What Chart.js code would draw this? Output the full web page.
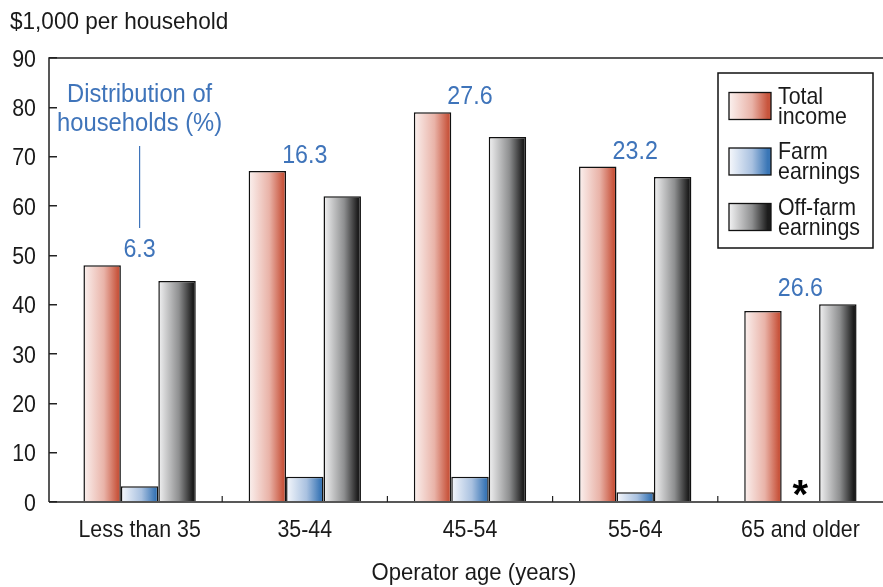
<!DOCTYPE html>
<html>
<head>
<meta charset="utf-8">
<script src="https://cdn.jsdelivr.net/npm/chart.js@4"></script>
<style>
  html, body { margin: 0; padding: 0; background: #fff; }
</style>
</head>
<body>
<canvas id="myChart" width="883" height="587"></canvas>
<script>
const ageGroups = ['Less than 35', '35-44', '45-54', '55-64', '65 and older'];
const totalIncome = [48, 67.1, 79, 68, 38.7];
const farmEarnings = [3.2, 5.1, 5.1, 2, null];
const offFarmEarnings = [44.8, 62, 74, 65.9, 40.1];
const householdShare = [6.3, 16.3, 27.6, 23.2, 26.6];
const yMin = 0, yMax = 90, yStep = 10;

const FONT = '"Liberation Sans", Arial, sans-serif';
const BLUE_TEXT = '#3f74ba';
const INK = '#1a1a1a';

// left -> right gradient stops for each series
const gradStops = [
    ['#fbf1ef', '#e9b3a8', '#c8553d'],
    ['#f6f8fc', '#a9c1e0', '#3a76b6'],
    ['#f2f2f3', '#8e8f90', '#1c1c1c']
];

function makeGrad(ctx, x0, x1, di) {
    const g = ctx.createLinearGradient(x0, 0, x1, 0);
    const s = gradStops[di];
    g.addColorStop(0, s[0]);
    g.addColorStop(0.55, s[1]);
    g.addColorStop(0.92, s[2]);
    g.addColorStop(1, s[2]);
    return g;
}

// the original uses a condensed face, so squeeze the text horizontally
function txt(ctx, s, x, y, o) {
    ctx.save();
    ctx.font = (o.weight || '') + ' ' + o.size + 'px ' + FONT;
    ctx.fillStyle = o.color || INK;
    ctx.textAlign = o.align || 'left';
    ctx.textBaseline = 'alphabetic';
    ctx.translate(x, y);
    ctx.scale(o.sx || 0.89, 1);
    ctx.fillText(s, 0, 0);
    ctx.restore();
}

const barGradients = {
    id: 'barGradients',
    beforeDatasetsDraw(chart) {
        const ctx = chart.ctx;
        chart.data.datasets.forEach((ds, di) => {
            const meta = chart.getDatasetMeta(di);
            meta.data.forEach(el => {
                if (!isFinite(el.x) || !isFinite(el.width)) return;
                const g = makeGrad(ctx, el.x - el.width / 2, el.x + el.width / 2, di);
                el.options = Object.assign({}, el.options, { backgroundColor: g });
            });
        });
    }
};

const decorations = {
    id: 'decorations',
    afterDraw(chart) {
        const ctx = chart.ctx;
        const { left, top, bottom } = chart.chartArea;
        const xs = chart.scales.x, ys = chart.scales.y;
        const axisX = left - 8;
        ctx.save();

        // frame: left, top, bottom
        ctx.strokeStyle = '#222';
        ctx.lineWidth = 1.5;
        ctx.beginPath();
        ctx.moveTo(axisX, bottom);
        ctx.lineTo(axisX, top);
        ctx.lineTo(chart.width, top);
        ctx.moveTo(axisX, bottom);
        ctx.lineTo(chart.width, bottom);
        ctx.stroke();

        // small ticks between categories
        ctx.lineWidth = 1.2;
        ctx.beginPath();
        for (let i = 1; i < ageGroups.length; i++) {
            const bx = (xs.getPixelForValue(i - 1) + xs.getPixelForValue(i)) / 2;
            ctx.moveTo(bx, bottom);
            ctx.lineTo(bx, bottom - 6);
        }
        ctx.stroke();

        // y tick labels
        ys.ticks.forEach(t => {
            txt(ctx, String(t.value), axisX - 13, ys.getPixelForValue(t.value) + 8.5,
                { size: 24, align: 'right' });
        });

        // category labels and axis title
        ageGroups.forEach((g, i) => {
            txt(ctx, g, xs.getPixelForValue(i), 537, { size: 24, align: 'center' });
        });
        txt(ctx, 'Operator age (years)', (axisX + chart.width) / 2 + 8, 580,
            { size: 24, align: 'center', sx: 0.92 });

        // y axis unit label
        txt(ctx, '$1,000 per household', 10, 29, { size: 24, sx: 0.94 });

        // share of households above each group
        householdShare.forEach((v, i) => {
            const hi = Math.max(totalIncome[i] || 0, farmEarnings[i] || 0, offFarmEarnings[i] || 0);
            txt(ctx, v.toFixed(1), xs.getPixelForValue(i), ys.getPixelForValue(hi) - 8,
                { size: 25, align: 'center', color: BLUE_TEXT, sx: 0.93 });
        });

        // callout for the first group
        const cx = xs.getPixelForValue(0);
        txt(ctx, 'Distribution of', cx, 102, { size: 25, align: 'center', color: BLUE_TEXT, sx: 0.95 });
        txt(ctx, 'households (%)', cx, 131, { size: 25, align: 'center', color: BLUE_TEXT, sx: 0.95 });
        ctx.strokeStyle = BLUE_TEXT;
        ctx.lineWidth = 1.2;
        ctx.beginPath();
        ctx.moveTo(cx, 146);
        ctx.lineTo(cx, 228);
        ctx.stroke();

        // asterisk where farm earnings are missing
        farmEarnings.forEach((v, i) => {
            if (v === null) {
                txt(ctx, '*', xs.getPixelForValue(i), bottom + 6,
                    { size: 40, align: 'center', color: '#000', weight: 'bold', sx: 1 });
            }
        });

        // legend box
        ctx.strokeStyle = '#111';
        ctx.lineWidth = 1.5;
        ctx.strokeRect(718, 73, 155, 175);
        chart.data.datasets.forEach((ds, di) => {
            const cy = 105.5 + di * 55.5;
            ctx.fillStyle = makeGrad(ctx, 729, 771, di);
            ctx.fillRect(729, cy - 13, 42, 27);
            ctx.strokeStyle = '#111';
            ctx.lineWidth = 1.3;
            ctx.strokeRect(729, cy - 13, 42, 27);
            const sp = ds.label.indexOf(' ');
            txt(ctx, ds.label.slice(0, sp), 778, cy - 2, { size: 24 });
            txt(ctx, ds.label.slice(sp + 1), 778, cy + 18, { size: 24 });
        });
        ctx.restore();
    }
};

const ctx = document.getElementById('myChart').getContext('2d');
const myChart = new Chart(ctx, {
    type: 'bar',
    data: {
        labels: ageGroups,
        datasets: [
            { label: 'Total income', data: totalIncome, backgroundColor: '#c8553d' },
            { label: 'Farm earnings', data: farmEarnings, backgroundColor: '#3a76b6' },
            { label: 'Off-farm earnings', data: offFarmEarnings, backgroundColor: '#555' }
        ]
    },
    options: {
        responsive: false,
        animation: false,
        devicePixelRatio: 1,
        layout: { padding: { top: 58, left: 0, right: 0, bottom: 0 } },
        datasets: {
            bar: {
                borderColor: '#111',
                borderWidth: 1.5,
                categoryPercentage: 0.68,
                barPercentage: 1.0
            }
        },
        plugins: {
            legend: { display: false },
            tooltip: { enabled: false }
        },
        scales: {
            x: {
                offset: true,
                grid: { display: false, drawTicks: false },
                border: { display: false },
                ticks: { display: false },
                afterFit(scale) { scale.height = 85; }
            },
            y: {
                min: yMin,
                max: yMax,
                border: { display: false },
                grid: { drawOnChartArea: false, tickLength: 8, color: '#222', lineWidth: 1.5 },
                ticks: { display: false, stepSize: yStep },
                afterFit(scale) { scale.width = 57; }
            }
        }
    },
    plugins: [barGradients, decorations]
});
</script>
</body>
</html>
